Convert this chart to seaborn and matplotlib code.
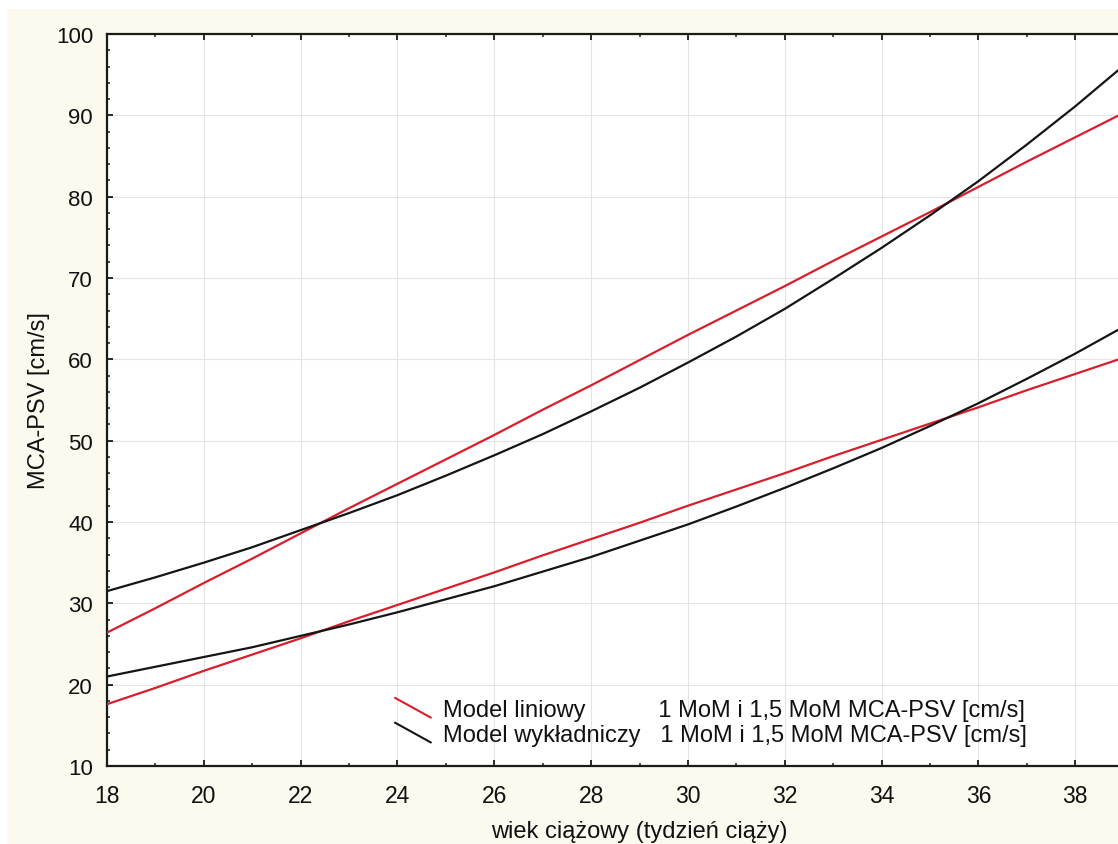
import numpy as np
import pandas as pd
import seaborn as sns
import matplotlib.pyplot as plt
from matplotlib.lines import Line2D
from matplotlib.legend_handler import HandlerBase
from matplotlib.patches import Rectangle

# Gestational age (weeks) and model curves for MCA-PSV [cm/s]
weeks = list(range(18, 40))
linear_1mom = [17.6, 19.6, 21.7, 23.7, 25.7, 27.8, 29.8, 31.8, 33.8, 35.9, 37.9,
               39.9, 42.0, 44.0, 46.0, 48.1, 50.1, 52.1, 54.1, 56.2, 58.2, 60.2]
linear_15mom = [26.4, 29.4, 32.5, 35.5, 38.6, 41.7, 44.7, 47.7, 50.7, 53.8, 56.8,
                59.9, 63.0, 66.0, 69.0, 72.1, 75.1, 78.1, 81.2, 84.3, 87.3, 90.3]
exp_1mom = [21.0, 22.2, 23.4, 24.6, 26.0, 27.4, 28.9, 30.5, 32.1, 33.9, 35.7,
            37.7, 39.7, 41.9, 44.2, 46.6, 49.1, 51.8, 54.6, 57.6, 60.7, 64.0]
exp_15mom = [31.5, 33.2, 35.0, 36.9, 39.0, 41.1, 43.3, 45.7, 48.2, 50.8, 53.6,
             56.5, 59.6, 62.8, 66.2, 69.9, 73.7, 77.7, 81.9, 86.4, 91.1, 96.1]

x_ticks = list(range(18, 39, 2))
y_ticks = list(range(10, 101, 10))

model_linear = "Model liniowy"
model_exp = "Model wykładniczy"
legend_suffix = "1 MoM i 1,5 MoM MCA-PSV [cm/s]"

frames = []
for name, model, vals in [("lin_1", model_linear, linear_1mom),
                          ("lin_15", model_linear, linear_15mom),
                          ("exp_1", model_exp, exp_1mom),
                          ("exp_15", model_exp, exp_15mom)]:
    frames.append(pd.DataFrame({"week": weeks, "value": vals,
                                "curve": name, "model": model}))
df = pd.concat(frames, ignore_index=True)

RED = "#d81e2c"
BLACK = "#151515"
CREAM = "#fcf9ee"
TEXT = "#111111"

sns.set_theme(style="whitegrid")
plt.rcParams["font.family"] = ["Liberation Sans", "DejaVu Sans"]

fig = plt.figure(figsize=(11.18, 8.45), dpi=100)
fig.patch.set_facecolor("white")
fig.patches.append(Rectangle((7 / 1118, 0), 1, (845 - 10) / 845,
                             transform=fig.transFigure, facecolor=CREAM,
                             edgecolor="none", zorder=-10))

# the week axis runs to 40, past the right edge of the canvas
ax = fig.add_axes([107 / 1118, 78 / 845, (1172 - 107) / 1118, 732 / 845])
ax.set_facecolor("white")

sns.lineplot(data=df, x="week", y="value", hue="model", units="curve",
             estimator=None, palette={model_linear: RED, model_exp: BLACK},
             linewidth=1.6, legend=False, ax=ax, zorder=3)

ax.set_xlim(18, 40)
ax.set_ylim(10, 100)
ax.set_xticks(x_ticks)
ax.set_yticks(y_ticks)
ax.set_xticks(np.arange(19, 40, 2), minor=True)
ax.set_yticks(np.arange(12, 100, 2), minor=True)

ax.grid(True, which="major", color="#e4e4e4", linewidth=0.8)
ax.grid(False, which="minor")
for sp in ax.spines.values():
    sp.set_color("#1a1a1a")
    sp.set_linewidth(1.6)
    sp.set_visible(True)

ax.tick_params(axis="both", which="both", direction="in", color="#1a1a1a",
               top=True, bottom=True, left=True, right=True)
ax.tick_params(which="major", length=4, width=1.3)
ax.tick_params(which="minor", length=2.5, width=1.1)
ax.tick_params(axis="x", labelsize=16.5, pad=13)
ax.tick_params(axis="y", labelsize=16, pad=10)
for lab in ax.get_xticklabels() + ax.get_yticklabels():
    lab.set_color(TEXT)

ax.set_xlabel("wiek ciążowy (tydzień ciąży)", fontsize=17, color=TEXT,
              labelpad=9)
ax.set_ylabel("MCA-PSV [cm/s]", fontsize=17, color=TEXT, labelpad=4)


class DiagonalHandler(HandlerBase):
    def create_artists(self, legend, orig_handle, xdescent, ydescent,
                       width, height, fontsize, trans):
        x0 = -xdescent
        y0 = -ydescent
        line = Line2D([x0, x0 + width], [y0 + height * 1.1, y0 - height * 0.1],
                      color=orig_handle.get_color(), linewidth=1.5)
        line.set_transform(trans)
        return [line]


handles = [Line2D([], [], color=RED), Line2D([], [], color=BLACK)]
labels = [model_linear + " " * 11 + legend_suffix,
          model_exp + "   " + legend_suffix]
leg = ax.legend(handles, labels, handler_map={Line2D: DiagonalHandler()},
                loc="upper left", bbox_to_anchor=(395 / 1118, 1 - 700 / 845),
                bbox_transform=fig.transFigure, frameon=False, fontsize=17,
                handlelength=1.52, handletextpad=0.5, borderpad=0,
                borderaxespad=0, labelspacing=0.12)
for t in leg.get_texts():
    t.set_color(TEXT)

fig.savefig("out.png", dpi=100, facecolor=fig.get_facecolor())
